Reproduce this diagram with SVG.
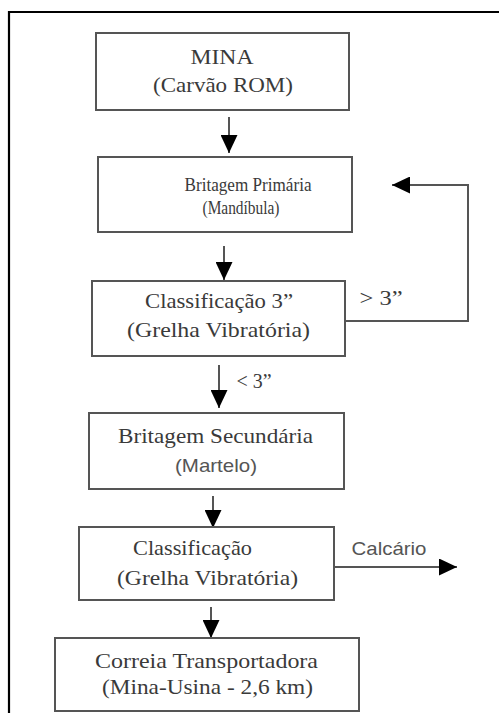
<svg xmlns="http://www.w3.org/2000/svg" width="499" height="713" viewBox="0 0 499 713">
<style>
.box{fill:#fff;stroke:#555;stroke-width:2}
.frame{fill:none;stroke:#000;stroke-width:2.2}
.serif{font-family:"Liberation Serif","Times New Roman",serif;fill:#3a3a3a;text-anchor:middle}
.sans{font-family:"Liberation Sans",Arial,sans-serif;fill:#555;text-anchor:middle}
.conn{fill:none;stroke:#555;stroke-width:2}
</style>
<defs>
<marker id="ah" markerUnits="userSpaceOnUse" markerWidth="18" markerHeight="17" refX="18" refY="8.5" orient="auto" viewBox="0 0 18 17">
<path d="M0,0 L18,8.5 L0,17 z" fill="#000"/>
</marker>
</defs>
<rect width="499" height="713" fill="#fff"/>
<path class="frame" d="M9,713 V12 H499"/>
<g id="connectors">
<path class="conn" d="M229,117 V153" marker-end="url(#ah)"/>
<path class="conn" d="M224,246 V280" marker-end="url(#ah)"/>
<path class="conn" d="M219,365 V408" marker-end="url(#ah)"/>
<path class="conn" d="M213,496 V528" marker-end="url(#ah)"/>
<path class="conn" d="M211,607 V638" marker-end="url(#ah)"/>
<path class="conn" d="M345,321 H468 V185 H392" marker-end="url(#ah)"/>
<path class="conn" d="M334,567 H457" marker-end="url(#ah)"/>
<text class="serif" x="381" y="305" font-size="20" textLength="43" lengthAdjust="spacingAndGlyphs">&gt; 3”</text>
<text class="serif" x="254" y="388" font-size="20" textLength="35" lengthAdjust="spacingAndGlyphs">&lt; 3”</text>
<text class="sans" x="389" y="555" font-size="19" textLength="75" lengthAdjust="spacingAndGlyphs">Calcário</text>
</g>
<g id="mina">
<rect class="box" x="96" y="33" width="253" height="77"/>
<text class="serif" x="222" y="64" font-size="22" textLength="63" lengthAdjust="spacingAndGlyphs">MINA</text>
<text class="serif" x="223" y="92" font-size="22" textLength="140" lengthAdjust="spacingAndGlyphs">(Carvão ROM)</text>
</g>
<g id="britagem-primaria">
<rect class="box" x="98" y="157" width="254" height="75"/>
<text class="serif" x="248" y="191" font-size="18" textLength="127" lengthAdjust="spacingAndGlyphs">Britagem Primária</text>
<text class="serif" x="241" y="214" font-size="18" textLength="77" lengthAdjust="spacingAndGlyphs">(Mandíbula)</text>
</g>
<g id="classificacao-3">
<rect class="box" x="92" y="281" width="253" height="75"/>
<text class="serif" x="219" y="308" font-size="22" textLength="148" lengthAdjust="spacingAndGlyphs">Classificação 3”</text>
<text class="serif" x="218.5" y="337" font-size="22" textLength="183" lengthAdjust="spacingAndGlyphs">(Grelha Vibratória)</text>
</g>
<g id="britagem-secundaria">
<rect class="box" x="89" y="413" width="255" height="76"/>
<text class="serif" x="215.5" y="443" font-size="22" textLength="195" lengthAdjust="spacingAndGlyphs">Britagem Secundária</text>
<text class="sans" x="216" y="472" font-size="19" textLength="82" lengthAdjust="spacingAndGlyphs">(Martelo)</text>
</g>
<g id="classificacao">
<rect class="box" x="79" y="527" width="255" height="73"/>
<text class="serif" x="192.5" y="555" font-size="22" textLength="119" lengthAdjust="spacingAndGlyphs">Classificação</text>
<text class="serif" x="207.5" y="585" font-size="22" textLength="181" lengthAdjust="spacingAndGlyphs">(Grelha Vibratória)</text>
</g>
<g id="correia">
<rect class="box" x="55" y="638" width="304" height="73"/>
<text class="serif" x="206.5" y="668" font-size="22" textLength="223" lengthAdjust="spacingAndGlyphs">Correia Transportadora</text>
<text class="serif" x="207.5" y="694" font-size="22" textLength="211" lengthAdjust="spacingAndGlyphs">(Mina-Usina - 2,6 km)</text>
</g>
</svg>
